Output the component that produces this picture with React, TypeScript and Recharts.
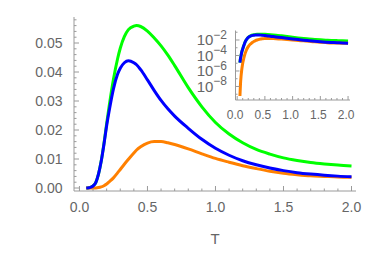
import React from 'react';
import { LineChart, Line, XAxis, YAxis } from 'recharts';

// ---------- data ----------
const T = [0.05, 0.06, 0.07, 0.08, 0.09, 0.1, 0.12, 0.14, 0.16, 0.18, 0.2, 0.22, 0.25, 0.28, 0.3, 0.33, 0.36, 0.4, 0.42, 0.45, 0.5, 0.55, 0.6, 0.65, 0.7, 0.8, 0.9, 1.0, 1.1, 1.2, 1.3, 1.4, 1.5, 1.6, 1.7, 1.8, 1.9, 2.0];

const green = [0.000012, 0.00004, 0.0001, 0.00022, 0.00042, 0.0007, 0.0019, 0.0048, 0.0093, 0.0153, 0.0222, 0.0287, 0.0375, 0.0445, 0.0482, 0.0522, 0.0546, 0.0558, 0.056, 0.0557, 0.0541, 0.0517, 0.049, 0.0458, 0.0422, 0.0346, 0.028, 0.0226, 0.0186, 0.0156, 0.0133, 0.0117, 0.0104, 0.0095, 0.0088, 0.0083, 0.0079, 0.0076];

const blue = [0.000012, 0.00004, 0.0001, 0.00022, 0.00042, 0.0007, 0.0019, 0.0048, 0.0092, 0.015, 0.0215, 0.027, 0.0342, 0.0392, 0.0413, 0.0432, 0.0439, 0.0432, 0.0425, 0.0408, 0.0373, 0.0336, 0.0302, 0.0273, 0.0248, 0.0206, 0.0168, 0.0137, 0.0113, 0.0094, 0.008, 0.0069, 0.006, 0.0053, 0.0048, 0.0044, 0.0041, 0.0039];

const orange = [6e-10, 2e-8, 2e-7, 1e-6, 3.5e-6, 1e-5, 4.5e-5, 0.00015, 0.00038, 0.0008, 0.0014, 0.0022, 0.0035, 0.0052, 0.0064, 0.0082, 0.0099, 0.0121, 0.0131, 0.0142, 0.0155, 0.016, 0.016, 0.0156, 0.015, 0.0135, 0.0118, 0.0102, 0.0089, 0.0077, 0.0067, 0.0058, 0.0051, 0.0046, 0.0042, 0.004, 0.0038, 0.0037];

// tick labels
const xMajor = [0, 0.5, 1, 1.5, 2];
const xMajorLabels = ['0.0', '0.5', '1.0', '1.5', '2.0'];
const yMajor = [0, 0.01, 0.02, 0.03, 0.04, 0.05];
const yMajorLabels = ['0.00', '0.01', '0.02', '0.03', '0.04', '0.05'];
const insetYMajor = [1e-2, 1e-4, 1e-6, 1e-8];
const insetYExp = ['\u22122', '\u22124', '\u22126', '\u22128'];
const axisTitle = 'T';

const xTicks = Array.from({ length: 21 }, (_, i) => Math.round(i) / 10);
const yTicks = Array.from({ length: 30 }, (_, i) => (i * 2) / 1000);
const insetYTicks = [1e-1, 1e-2, 1e-3, 1e-4, 1e-5, 1e-6, 1e-7, 1e-8, 1e-9];

const data = T.map((t, i) => ({ T: t, green: green[i], blue: blue[i], orange: orange[i] }));

// ---------- styles ----------
const FRAME = '#9a9a9a';
const TXT = '#666666';
const FONT = '"Liberation Sans", Arial, sans-serif';
const GREEN = '#00ff00';
const BLUE = '#0000ff';
const ORANGE = '#ff8000';

const idx = (arr: number[], v: number) =>
  arr.findIndex((m) => Math.abs(m - v) <= 1e-6 * Math.max(Math.abs(m), 1e-12) + (m === 0 ? 1e-12 : 0));

// ---------- tick renderers ----------
const mkBottomTick = (majors: number[], labels: string[], fs: number, dyLabel: number, majLen: number, minLen: number, dx = 0) =>
  (props: any) => {
    const { x, y, payload } = props;
    const i = idx(majors, payload.value);
    const len = i >= 0 ? majLen : minLen;
    return (
      <g>
        <line x1={x} y1={y} x2={x} y2={y - len} stroke={FRAME} strokeWidth={1} />
        {i >= 0 && (
          <text x={x + dx} y={y + dyLabel} textAnchor="middle" fontSize={fs} fill={TXT} fontFamily={FONT}>
            {labels[i]}
          </text>
        )}
      </g>
    );
  };

const mkTopTick = (majors: number[], majLen: number, minLen: number) => (props: any) => {
  const { x, y, payload } = props;
  const len = idx(majors, payload.value) >= 0 ? majLen : minLen;
  return <line x1={x} y1={y} x2={x} y2={y + len} stroke={FRAME} strokeWidth={1} />;
};

const mkRightTick = (majors: number[], majLen: number, minLen: number) => (props: any) => {
  const { x, y, payload } = props;
  const len = idx(majors, payload.value) >= 0 ? majLen : minLen;
  return <line x1={x} y1={y} x2={x - len} y2={y} stroke={FRAME} strokeWidth={1} />;
};

const MainLeftTick = (props: any) => {
  const { x, y, payload } = props;
  const i = idx(yMajor, payload.value);
  const len = i >= 0 ? 5 : 2.5;
  return (
    <g>
      <line x1={x} y1={y} x2={x + len} y2={y} stroke={FRAME} strokeWidth={1} />
      {i >= 0 && (
        <text x={x - 11.5} y={y + 5} textAnchor="end" fontSize={14} fill={TXT} fontFamily={FONT}>
          {yMajorLabels[i]}
        </text>
      )}
    </g>
  );
};

const InsetLeftTick = (props: any) => {
  const { x, y, payload } = props;
  const i = idx(insetYMajor, payload.value);
  const len = i >= 0 ? 4 : 2;
  return (
    <g>
      <line x1={x} y1={y} x2={x + len} y2={y} stroke={FRAME} strokeWidth={1} />
      {i >= 0 && (
        <text x={x - 8.5} y={y + 5.5} textAnchor="end" fontSize={15} fill={TXT} fontFamily={FONT}>
          <tspan>10</tspan>
          <tspan dy={-6.5} fontSize={12}>{insetYExp[i]}</tspan>
        </text>
      )}
    </g>
  );
};

const MainBottomTick = mkBottomTick(xMajor, xMajorLabels, 14, 21, 5, 2.5);
const MainTopTick = mkTopTick(xMajor, 5, 2.5);
const MainRightTick = mkRightTick(yMajor, 5, 2.5);
const InsetBottomTick = mkBottomTick(xMajor, xMajorLabels, 12, 19, 4, 2, -2);
const InsetTopTick = mkTopTick(xMajor, 4, 2);
const InsetRightTick = mkRightTick(insetYMajor, 4, 2);

const mainX: [number, number] = [-0.04, 2.033];
const mainY: [number, number] = [-0.00103, 0.05897];
const insetX: [number, number] = [-0.03, 2.035];
const insetY: [number, number] = [1.8e-10, 0.168];

const common = { tickSize: 0, tickMargin: 0, tickLine: false, interval: 0 as const, allowDataOverflow: true, axisLine: { stroke: FRAME } };

export default function App() {
  return (
    <div style={{ position: 'absolute', left: 0, top: 0, width: 366, height: 258, background: '#fff', overflow: 'hidden' }}>
      <div style={{ position: 'absolute', left: 0, top: 0 }}>
        <LineChart width={366} height={258} data={data} margin={{ top: 17, right: 10, left: 0, bottom: 27 }}>
          <XAxis xAxisId="b" dataKey="T" type="number" domain={mainX} ticks={xTicks} height={40} tick={MainBottomTick} {...common}
            label={{ value: axisTitle, position: 'bottom', offset: 2, fill: TXT, fontSize: 15, fontFamily: FONT }} />
          <XAxis xAxisId="t" dataKey="T" orientation="top" type="number" domain={mainX} ticks={xTicks} height={0} tick={MainTopTick} {...common} />
          <YAxis yAxisId="l" type="number" domain={mainY} ticks={yTicks} width={74} tick={MainLeftTick} {...common} />
          <YAxis yAxisId="r" orientation="right" type="number" domain={mainY} ticks={yTicks} width={0} tick={MainRightTick} {...common} />
          <Line xAxisId="b" yAxisId="l" dataKey="green" stroke={GREEN} strokeWidth={3} dot={false} type="monotone" isAnimationActive={false} />
          <Line xAxisId="b" yAxisId="l" dataKey="orange" stroke={ORANGE} strokeWidth={3} dot={false} type="monotone" isAnimationActive={false} />
          <Line xAxisId="b" yAxisId="l" dataKey="blue" stroke={BLUE} strokeWidth={3} dot={false} type="monotone" isAnimationActive={false} />
        </LineChart>
      </div>
      <div style={{ position: 'absolute', left: 0, top: 0 }}>
        <LineChart width={366} height={258} data={data} margin={{ top: 30.5, right: 16, left: 0, bottom: 128 }}>
          <XAxis xAxisId="b" dataKey="T" type="number" domain={insetX} ticks={xTicks} height={30} tick={InsetBottomTick} {...common} />
          <XAxis xAxisId="t" dataKey="T" orientation="top" type="number" domain={insetX} ticks={xTicks} height={0} tick={InsetTopTick} {...common} />
          <YAxis yAxisId="l" type="number" scale="log" domain={insetY} ticks={insetYTicks} width={235.5} tick={InsetLeftTick} {...common} />
          <YAxis yAxisId="r" orientation="right" type="number" scale="log" domain={insetY} ticks={insetYTicks} width={0} tick={InsetRightTick} {...common} />
          <Line xAxisId="b" yAxisId="l" dataKey="green" stroke={GREEN} strokeWidth={3} dot={false} type="monotone" isAnimationActive={false} />
          <Line xAxisId="b" yAxisId="l" dataKey="orange" stroke={ORANGE} strokeWidth={3} dot={false} type="monotone" isAnimationActive={false} />
          <Line xAxisId="b" yAxisId="l" dataKey="blue" stroke={BLUE} strokeWidth={3} dot={false} type="monotone" isAnimationActive={false} />
        </LineChart>
      </div>
    </div>
  );
}
